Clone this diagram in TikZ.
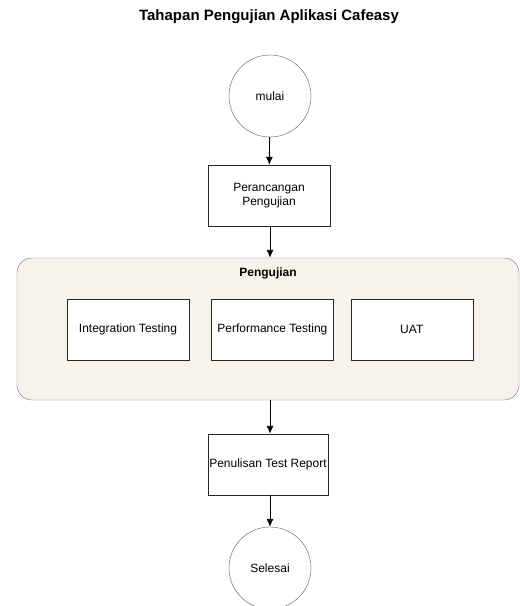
\documentclass[tikz,border=0pt]{standalone}
\usepackage{fontspec}
\setmainfont{Liberation Sans}
\usetikzlibrary{arrows.meta, positioning}
\definecolor{panelfill}{HTML}{F6F3EB}
\definecolor{panelline}{HTML}{6E6E6E}

\begin{document}
\begin{tikzpicture}[
    x=1pt, y=-1pt,
    >={Latex[length=8pt, width=7pt]},
    every node/.style={font=\fontsize{12}{14}\selectfont},
    stepbox/.style={draw=black!85, fill=white, minimum width=122pt, minimum height=61pt, align=center, inner sep=0pt},
    terminal/.style={draw=black!65, circle, fill=white, minimum size=82pt, inner sep=0pt},
    panel/.style={draw=panelline, fill=panelfill, rounded corners=15pt, minimum width=502pt, minimum height=142pt},
    flow/.style={->, black, line width=0.9pt},
]
\useasboundingbox (0,0) rectangle (520,606);
% title
\node[font=\bfseries\fontsize{15}{17}\selectfont] (judul) at (269,17) {Tahapan Pengujian Aplikasi Cafeasy};
% start and design step
\node[terminal] (mulai) at (270,96) {mulai};
\node[stepbox] (rancang) at (269,195.5) {Perancangan\\Pengujian};
% testing panel with its three steps
\node[panel] (uji) at (268,329) {};
\node[font=\bfseries\fontsize{12}{14}\selectfont] (ujilabel) at (268,273) {Pengujian};
\node[stepbox] (integrasi) at (128,329.5) {Integration Testing};
\node[stepbox, right=22pt of integrasi] (performa) {Performance Testing};
\node[stepbox, right=17pt of performa] (uat) {UAT};
% report and end
\node[stepbox, minimum width=120pt] (laporan) at (268,464.5) {Penulisan Test Report};
\node[terminal] (selesai) at (270,568) {Selesai};
% arrows
\draw[flow] (mulai) -- (rancang);
\draw[flow] (rancang.south -| mulai) -- (uji.north -| mulai);
\draw[flow] (uji.south -| mulai) -- (laporan.north -| mulai);
\draw[flow] (laporan.south -| mulai) -- (selesai);
\end{tikzpicture}
\end{document}
